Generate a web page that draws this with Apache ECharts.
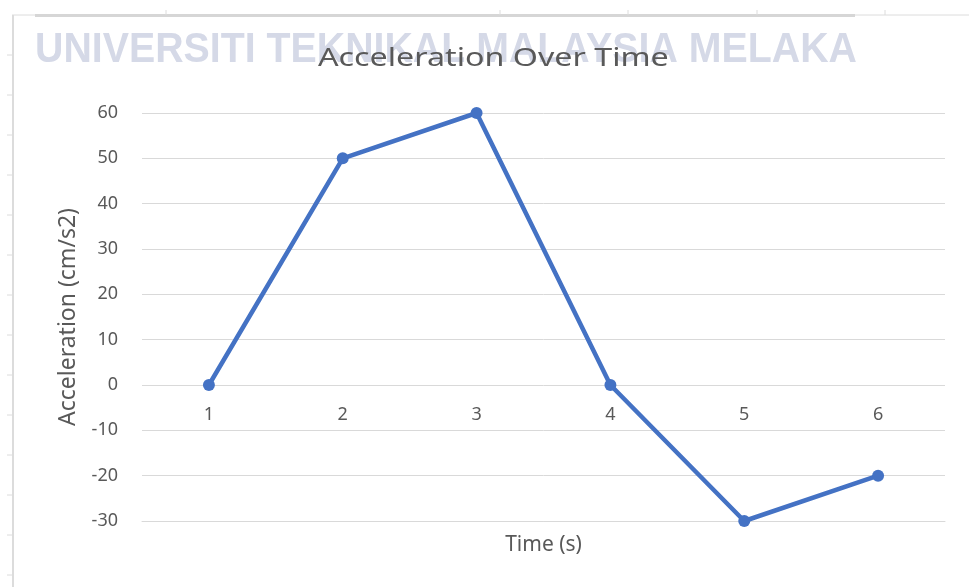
<!DOCTYPE html>
<html>
<head>
<meta charset="utf-8">
<script src="https://cdn.jsdelivr.net/npm/echarts@6/dist/echarts.min.js"></script>
<style>html,body{margin:0;padding:0;background:#fff}#c{width:969px;height:587px}</style>
</head>
<body>
<div id="c"></div>
<script>
const categories = ['1', '2', '3', '4', '5', '6'];
const acceleration = [0, 50, 60, 0, -30, -20];
const yTicks = { min: -30, max: 60, interval: 10 };
const titleText = 'Acceleration Over Time';
const watermarkText = 'UNIVERSITI TEKNIKAL MALAYSIA MELAKA';

const chart = echarts.init(document.getElementById('c'), null, { renderer: 'canvas' });
const rulerColor = '#dcdcdc';
const graphics = [];
graphics.push({ type: 'line', shape: { x1: 12, y1: 15, x2: 969, y2: 15 }, style: { stroke: rulerColor, lineWidth: 1 }, z: 0 });
graphics.push({ type: 'rect', shape: { x: 35, y: 14, width: 820, height: 3 }, style: { fill: '#d6d6d6' }, z: 0 });
[166, 500, 628, 757, 885].forEach(x => graphics.push({ type: 'line', shape: { x1: x, y1: 10, x2: x, y2: 15 }, style: { stroke: rulerColor, lineWidth: 1 }, z: 0 }));
graphics.push({ type: 'rect', shape: { x: 12, y: 15, width: 2, height: 572 }, style: { fill: rulerColor }, z: 0 });
for (let y = 55; y < 587; y += 40) {
  graphics.push({ type: 'line', shape: { x1: 7, y1: y, x2: 12, y2: y }, style: { stroke: rulerColor, lineWidth: 1 }, z: 0 });
}
graphics.push({
  type: 'text', left: 35, top: 29, z: 1,
  style: { text: watermarkText, font: 'bold 42px "Liberation Sans", Arial, sans-serif', fill: '#d5d9e7' },
  scaleX: 0.936
});
graphics.push({
  type: 'text', left: 318, top: 46, z: 10,
  style: { text: titleText, font: '26px "Noto Sans", sans-serif', fill: '#595959' },
  scaleX: 1.24
});

chart.setOption({
  animation: false,
  backgroundColor: '#fff',
  graphic: graphics,
  grid: { left: 142, right: 24, top: 113, bottom: 66, outerBoundsMode: 'none' },
  xAxis: {
    type: 'category', data: categories, boundaryGap: true,
    name: 'Time (s)', nameLocation: 'middle', nameGap: 14, nameMoveOverlap: false,
    nameTextStyle: { fontFamily: 'Noto Sans', fontSize: 21, color: '#595959' },
    axisLine: { show: true, onZero: false, lineStyle: { color: '#d9d9d9', width: 1 } },
    axisTick: { show: false },
    axisLabel: { margin: -115, fontFamily: 'Noto Sans', fontSize: 18, color: '#595959' }
  },
  yAxis: {
    type: 'value', min: yTicks.min, max: yTicks.max, interval: yTicks.interval,
    name: 'Acceleration (cm/s2)', nameLocation: 'middle', nameGap: 62,
    nameTextStyle: { fontFamily: 'Noto Sans', fontSize: 23, color: '#595959' },
    axisLine: { show: false }, axisTick: { show: false },
    axisLabel: { margin: 24, fontFamily: 'Noto Sans', fontSize: 18, color: '#595959' },
    splitLine: { lineStyle: { color: '#d9d9d9', width: 1 } }
  },
  series: [{
    type: 'line', data: acceleration,
    symbol: 'circle', symbolSize: 12,
    lineStyle: { color: '#4472C4', width: 4.5 },
    itemStyle: { color: '#4472C4' }
  }]
});
</script>
</body>
</html>
